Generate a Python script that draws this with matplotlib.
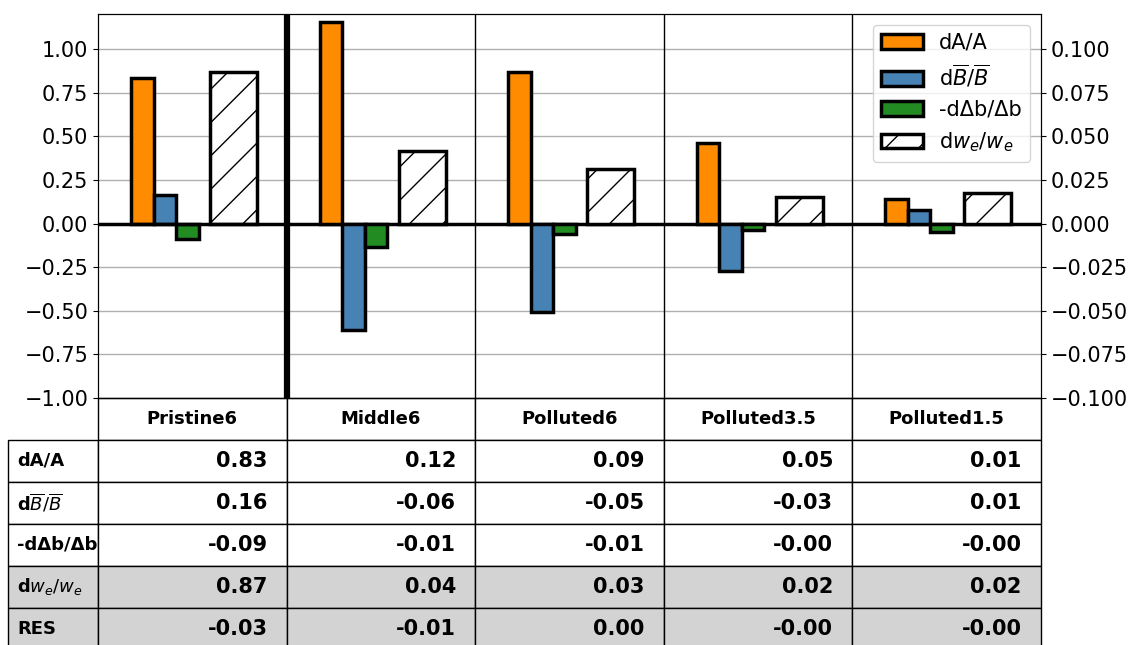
import matplotlib.pyplot as plt
from matplotlib.table import Table
import numpy as np

# cases and bar values (Pristine6 on left axis, the rest on right axis)
cases = ['Pristine6', 'Middle6', 'Polluted6', 'Polluted3.5', 'Polluted1.5']
dA = [0.834, 0.1155, 0.087, 0.046, 0.014]
dB = [0.163, -0.061, -0.051, -0.027, 0.008]
dDb = [-0.089, -0.0135, -0.006, -0.004, -0.005]
dwe = [0.868, 0.0415, 0.031, 0.015, 0.0175]

# table values
row_labels = ['dA/A', r'd$\overline{B}/\overline{B}$', '-d\u0394b/\u0394b',
              r'd$w_e/w_e$', 'RES']
tab_dA = [0.83, 0.12, 0.09, 0.05, 0.01]
tab_dB = [0.16, -0.06, -0.05, -0.03, 0.01]
tab_dDb = [-0.09, -0.01, -0.01, -0.00, -0.00]
tab_dwe = [0.87, 0.04, 0.03, 0.02, 0.02]
tab_res = ['-0.03', '-0.01', '0.00', '-0.00', '-0.00']

fig = plt.figure(figsize=(11.29, 6.45), dpi=100)
ax = fig.add_axes([0.0868, 0.383, 0.835, 0.595])
ax2 = ax.twinx()

x = np.arange(len(cases))
w = 0.12
kw = dict(edgecolor='black', linewidth=2.5)
series = [(dA, -0.265, w, 'darkorange', None, 'dA/A'),
          (dB, -0.145, w, 'steelblue', None, r'd$\overline{B}/\overline{B}$'),
          (dDb, -0.025, w, 'forestgreen', None, '-d\u0394b/\u0394b'),
          (dwe, 0.22, 0.25, 'white', '/', r'd$w_e/w_e$')]
handles = []
for vals, off, bw, col, hatch, lab in series:
    ax.bar(x[0] + off, vals[0], bw, color=col, hatch=hatch, zorder=3, **kw)
    h = ax2.bar(x[1:] + off, vals[1:], bw, color=col, hatch=hatch, zorder=3,
                label=lab, **kw)
    handles.append(h)

ax.set_ylim(-1, 1.2)
ax2.set_ylim(-0.1, 0.12)
ax.set_yticks(np.arange(-1, 1.01, 0.25))
ax2.set_yticks(np.arange(-0.1, 0.101, 0.025))
ax.set_xlim(-0.5, 4.5)
ax.set_xticks([])
ax.tick_params(labelsize=15)
ax2.tick_params(labelsize=15)
ax.yaxis.grid(True, color='#b0b0b0', linewidth=1, zorder=0)
ax.set_axisbelow(True)
ax.axhline(0, color='black', linewidth=2.5, zorder=4)
ax.axvline(0.5, color='black', linewidth=4.5)
for xv in [1.5, 2.5, 3.5]:
    ax.axvline(xv, color='black', linewidth=1)

ax2.legend(handles=handles, loc='upper right', fontsize=15)

cells = [['%.2f' % v for v in tab_dA],
         ['%.2f' % v for v in tab_dB],
         ['%.2f' % v for v in tab_dDb],
         ['%.2f' % v for v in tab_dwe],
         tab_res]
rw = 90 / 943
hh = 252 / 384
# bbox covers only the data columns; row labels hang off to the left
tbl = Table(ax, bbox=[0, -hh, 1, hh])
ch = 1 / 6
for j, name in enumerate(cases):
    c = tbl.add_cell(0, j, 0.2, ch, text=name, loc='center')
    c.get_text().set_fontsize(13)
    c.get_text().set_fontweight('bold')
for i, lab in enumerate(row_labels):
    fc = 'lightgray' if i >= 3 else 'white'
    c = tbl.add_cell(i + 1, -1, rw, ch, text=lab, loc='left', facecolor=fc)
    c.get_text().set_fontsize(13)
    c.get_text().set_fontweight('bold')
    for j in range(len(cases)):
        c = tbl.add_cell(i + 1, j, 0.2, ch, text=cells[i][j], loc='right',
                         facecolor=fc)
        c.get_text().set_fontsize(15)
        c.get_text().set_fontweight('bold')
tbl.auto_set_font_size(False)
ax.add_table(tbl)

plt.savefig('out.png', dpi=100)
